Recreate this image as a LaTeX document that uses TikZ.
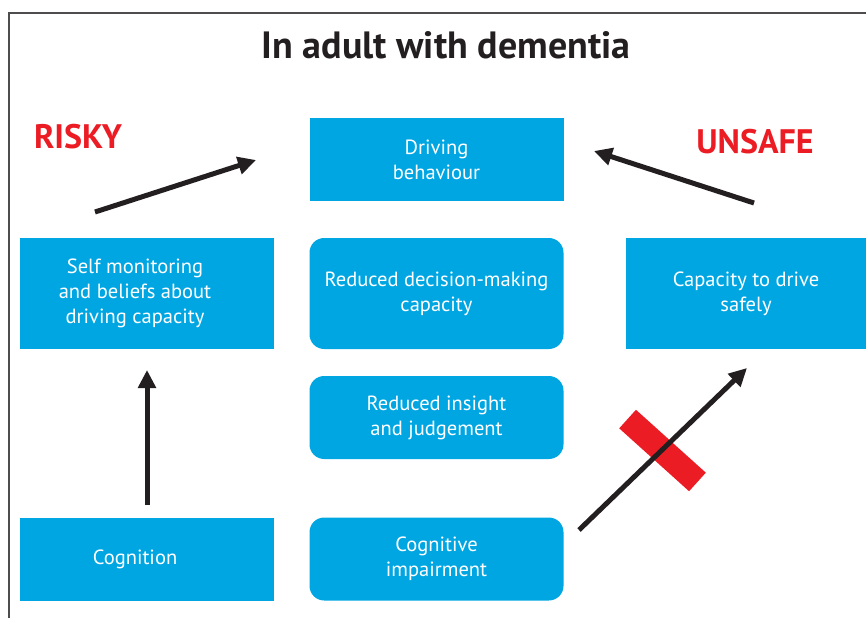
\documentclass[tikz,border=0pt]{standalone}
\usepackage{fontspec}
\setmainfont{PT Sans}
\usetikzlibrary{arrows.meta}
\definecolor{boxblue}{RGB}{0,166,226}
\definecolor{red}{RGB}{236,28,36}
\definecolor{ink}{RGB}{35,31,32}

\tikzset{
  flatbox/.style={fill=boxblue, text=white, align=center, inner sep=0pt, font=\fontsize{15.4}{18.75}\selectfont},
  roundbox/.style={flatbox, rounded corners=11pt},
  lefttext/.style={text=white, align=center, inner sep=0pt, xshift=-9pt, font=\fontsize{15.4}{18.75}\selectfont},
  fatarrow/.style={line width=3.75pt, draw=ink, -{Triangle[length=13.5pt,width=13pt]}},
}

\begin{document}
\begin{tikzpicture}[x=0.75pt,y=0.75pt,yscale=-1]
\useasboundingbox (0,0) rectangle (866,617);
\clip (0,0) rectangle (866,617);

%Shape: Frame
\draw  [color=ink!80, line width=1.1]  (9,680) -- (9,13) -- (900,13) ;

% Text Node
\node [text=ink, font=\fontsize{28.5}{32}\selectfont\bfseries] (title) at (446,45) {In adult with dementia};
% Text Node
\node [text=red, font=\fontsize{25.5}{28}\selectfont\bfseries] (risky) at (78,137) {RISKY};
% Text Node
\node [text=red, font=\fontsize{25.5}{28}\selectfont\bfseries] (unsafe) at (755,142) {UNSAFE};

%Shape: Rectangle
\node [flatbox, minimum width=190.5pt, minimum height=62.25pt] (driving) at (436.5,159.5) {Driving\\behaviour};
%Shape: Rectangle
\node [flatbox, minimum width=190.5pt, minimum height=83.25pt,
  label={[lefttext]center:{Self monitoring\\and beliefs about\\driving capacity}}] (selfmon) at (147,293.5) {};
%Rounded Rect
\node [roundbox, minimum width=190.5pt, minimum height=83.25pt] (decision) at (436.5,293.5) {Reduced decision-making\\capacity};
%Shape: Rectangle
\node [flatbox, minimum width=180pt, minimum height=83.25pt] (capacity) at (746,293.5) {Capacity to drive\\safely};
%Rounded Rect
\node [roundbox, minimum width=190.5pt, minimum height=62.25pt] (insight) at (436.5,417.5) {Reduced insight\\and judgement};
%Shape: Rectangle
\node [flatbox, minimum width=190.5pt, minimum height=62.25pt,
  label={[lefttext]center:Cognition}] (cognition) at (147,559) {};
%Rounded Rect
\node [roundbox, minimum width=190.5pt, minimum height=62.25pt] (impairment) at (436.5,559) {Cognitive\\impairment};

%Shape: Blocked bar
\node [fill=red, rotate=-42, minimum width=70.5pt, minimum height=18.75pt, inner sep=0pt] (block) at (662.5,450.5) {};

\coordinate (riskfrom) at (95,212);
\coordinate (riskto) at (256,160);
\coordinate (unsafefrom) at (754,203);
\coordinate (unsafeto) at (594,151);
\coordinate (upfrom) at (147,505);
\coordinate (upto) at (147,370);
\coordinate (diagfrom) at (579,530);
\coordinate (diagto) at (747,368);

%Straight Lines
\draw [fatarrow]    (riskfrom) -- (riskto) ;
%Straight Lines
\draw [fatarrow]    (unsafefrom) -- (unsafeto) ;
%Straight Lines
\draw [fatarrow]    (upfrom) -- (upto) ;
%Straight Lines
\draw [fatarrow]    (diagfrom) -- (diagto) ;

\end{tikzpicture}
\end{document}
